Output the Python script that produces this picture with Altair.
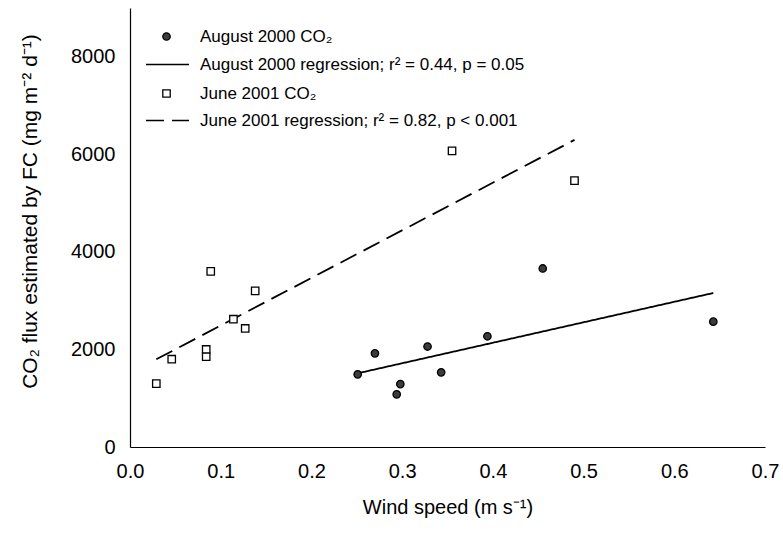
import altair as alt
import pandas as pd

# Wind speed (m/s) and CO2 flux (mg m-2 d-1) from the floating-chamber measurements
aug_wind = [0.251, 0.270, 0.294, 0.298, 0.328, 0.343, 0.394, 0.455, 0.643]
aug_flux = [1490, 1920, 1080, 1290, 2060, 1530, 2270, 3660, 2570]
jun_wind = [0.029, 0.046, 0.084, 0.084, 0.089, 0.114, 0.127, 0.138, 0.355, 0.490]
jun_flux = [1300, 1800, 2000, 1850, 3600, 2620, 2430, 3200, 6070, 5460]

series_names = ["August 2000 CO₂", "June 2001 CO₂"]
fit_names = [
    "August 2000 regression; r² = 0.44, p = 0.05",
    "June 2001 regression; r² = 0.82, p < 0.001",
]
x_ticks = [0.0, 0.1, 0.2, 0.3, 0.4, 0.5, 0.6, 0.7]
y_ticks = [0, 2000, 4000, 6000, 8000]

rows = []
for w, f in zip(aug_wind, aug_flux):
    rows.append({"wind": w, "flux": f, "series": series_names[0], "fit": fit_names[0]})
for w, f in zip(jun_wind, jun_flux):
    rows.append({"wind": w, "flux": f, "series": series_names[1], "fit": fit_names[1]})
df = pd.DataFrame(rows)

FONT = "Liberation Sans"

x_enc = alt.X(
    "wind:Q",
    scale=alt.Scale(domain=[0, 0.7], nice=False),
    axis=alt.Axis(
        values=x_ticks, format=".1f", ticks=False, grid=False,
        domainColor="black", domainWidth=1.2,
        labelFontSize=20, labelColor="black", labelPadding=14,
        labelFlush=False, labelOverlap=False,
        title="Wind speed (m s⁻¹)", titleFontSize=20, titleFontWeight="normal",
        titleColor="black", titleBaseline="middle", titleY=60,
    ),
)
y_enc = alt.Y(
    "flux:Q",
    scale=alt.Scale(domain=[0, 9000], nice=False),
    axis=alt.Axis(
        values=y_ticks, format="d", ticks=False, grid=False,
        domainColor="black", domainWidth=1.2,
        labelFontSize=20, labelColor="black", labelPadding=15,
        title="CO₂ flux estimated by FC (mg m⁻² d⁻¹)", titleFontSize=21,
        titleFontWeight="normal", titleColor="black",
        titleAngle=270, titleAlign="center", titleBaseline="middle",
        titleX=-100, titleY=203,
    ),
)

base = alt.Chart(df)

point_legend = alt.Legend(
    title=None, orient="none", legendX=28, legendY=20, padding=0,
    labelFontSize=17, labelColor="black", labelFont=FONT, labelLimit=0,
    symbolSize=55, symbolStrokeWidth=1.3,
    labelOffset=25, rowPadding=39,
)

points = base.mark_point(size=55, strokeWidth=1.3, opacity=1).encode(
    x=x_enc,
    y=y_enc,
    shape=alt.Shape("series:N", scale=alt.Scale(domain=series_names, range=["circle", "square"]),
                    legend=point_legend),
    fill=alt.Fill("series:N", scale=alt.Scale(domain=series_names, range=["#3c3c3c", "#ffffff"]),
                  legend=point_legend),
    stroke=alt.Stroke("series:N", scale=alt.Scale(domain=series_names, range=["#000000", "#000000"]),
                      legend=point_legend),
)

line_legend = alt.Legend(
    title=None, orient="none", legendX=15, legendY=34, padding=0,
    labelFontSize=17, labelColor="black", labelFont=FONT, labelLimit=0,
    symbolType="stroke", symbolSize=1849, symbolStrokeColor="black",
    symbolStrokeWidth=1.7, labelOffset=10, rowPadding=25,
)

fits = base.transform_regression(
    "wind", "flux", groupby=["fit"]
).mark_line(color="black", strokeWidth=1.8).encode(
    x="wind:Q",
    y="flux:Q",
    strokeDash=alt.StrokeDash("fit:N", scale=alt.Scale(domain=fit_names, range=[[1, 0], [18, 8]]),
                              legend=line_legend),
)

chart = alt.layer(fits, points).properties(
    width=635, height=439,
    autosize=alt.AutoSizeParams(type="none"),
    padding={"left": 130, "top": 8, "right": 18, "bottom": 89},
).configure(
    font=FONT,
).configure_view(
    stroke=None,
)

chart.save("out.html", embed_options={"renderer": "svg", "actions": False})
